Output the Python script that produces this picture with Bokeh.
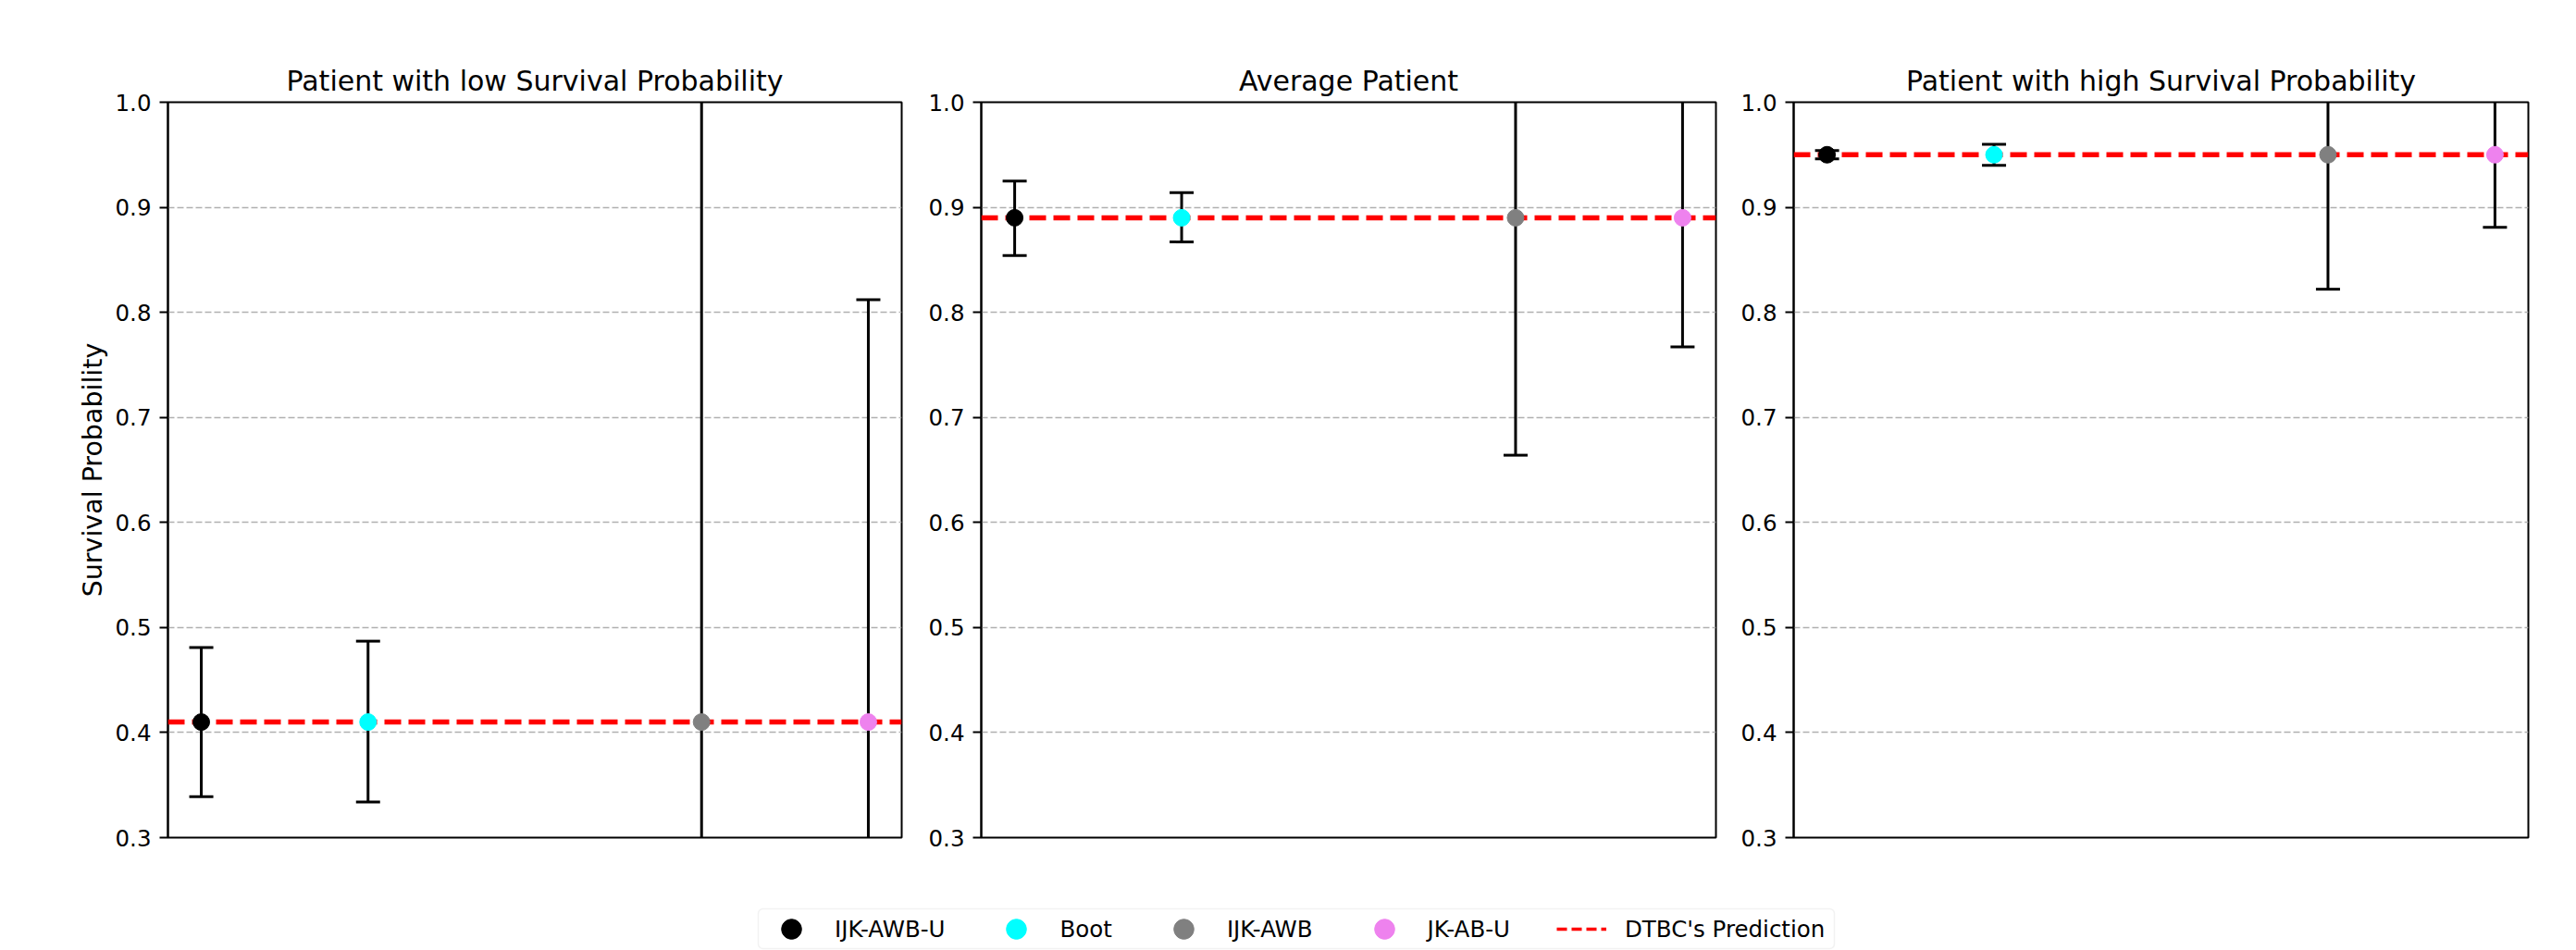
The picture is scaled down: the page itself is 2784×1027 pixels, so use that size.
from bokeh.plotting import figure
from bokeh.models import (ColumnDataSource, Range1d, Span, FixedTicker, PrintfTickFormatter,
                          Legend, LegendItem, BoxAnnotation)
from bokeh.layouts import column, row
from bokeh.embed import file_html
from bokeh.resources import INLINE

# ---------------- data ----------------
methods = ["IJK-AWB-U", "Boot", "IJK-AWB", "JK-AB-U"]
xpos = [0, 1, 3, 4]
colors = ["black", "cyan", "gray", "violet"]

titles = ["Patient with low Survival Probability", "Average Patient",
          "Patient with high Survival Probability"]
predictions = [0.41, 0.89, 0.95]

low_lower = [0.339, 0.334, -0.24, 0.008]
low_upper = [0.481, 0.487, 1.06, 0.812]
avg_lower = [0.854, 0.867, 0.664, 0.767]
avg_upper = [0.925, 0.914, 1.116, 1.013]
high_lower = [0.946, 0.940, 0.822, 0.881]
high_upper = [0.954, 0.960, 1.078, 1.019]

lowers = [low_lower, avg_lower, high_lower]
uppers = [low_upper, avg_upper, high_upper]

y_ticks = [0.3, 0.4, 0.5, 0.6, 0.7, 0.8, 0.9, 1.0]
pred_label = "DTBC's Prediction"
y_label = "Survival Probability"

FONT = "DejaVu Sans"
TICK_PX = "24.5px"
TITLE_PX = "30px"
YLABEL_PX = "28.5px"

# figure geometry
widths = [995, 875, 914]
borders_left = [181, 65, 68]
borders_right = [21, 16, 52]
HEIGHT = 950
TOP = 110
BOTTOM = 45

figs = []
for i in range(3):
    p = figure(width=widths[i], height=HEIGHT, output_backend="svg", toolbar_location=None,
               x_range=Range1d(-0.2, 4.2), y_range=Range1d(0.3, 1.0),
               min_border_left=borders_left[i], min_border_right=borders_right[i],
               min_border_top=TOP, min_border_bottom=BOTTOM, title=titles[i])
    p.title.align = "center"
    p.title.text_font = FONT
    p.title.text_font_size = TITLE_PX
    p.title.text_font_style = "normal"
    p.title.text_color = "black"
    p.title.standoff = 11

    p.xaxis.visible = False
    p.xgrid.visible = False
    p.ygrid.grid_line_color = "#b0b0b0"
    p.ygrid.grid_line_dash = "7 3"
    p.ygrid.grid_line_width = 1.5

    yax = p.yaxis[0]
    yax.ticker = FixedTicker(ticks=y_ticks)
    yax.formatter = PrintfTickFormatter(format="%.1f")
    yax.major_label_text_font = FONT
    yax.major_label_text_font_size = TICK_PX
    yax.major_label_text_color = "black"
    yax.major_tick_out = 9
    yax.major_tick_in = 0
    yax.minor_tick_out = 0
    yax.minor_tick_in = 0
    yax.major_tick_line_width = 2
    yax.major_tick_line_color = "black"
    yax.axis_line_color = "black"
    yax.axis_line_width = 2
    yax.major_label_standoff = 9
    if i == 0:
        yax.axis_label = y_label
        yax.axis_label_text_font = FONT
        yax.axis_label_text_font_size = YLABEL_PX
        yax.axis_label_text_font_style = "normal"
        yax.axis_label_text_color = "black"
        yax.axis_label_standoff = 5

    p.outline_line_color = "black"
    p.outline_line_width = 2
    p.outline_line_alpha = 1.0
    p.background_fill_color = "white"
    p.border_fill_color = "white"

    src = ColumnDataSource(dict(x=xpos, lo=lowers[i], hi=uppers[i],
                                y=[predictions[i]] * len(xpos), c=colors))
    p.segment(x0="x", y0="lo", x1="x", y1="hi", source=src, line_color="black", line_width=3)
    p.scatter(x="x", y="lo", source=src, marker="dash", size=26, line_color="black", line_width=3)
    p.scatter(x="x", y="hi", source=src, marker="dash", size=26, line_color="black", line_width=3)

    span = Span(location=predictions[i], dimension="width", line_color="red",
                line_width=5.5, line_dash="18 8")
    p.add_layout(span)

    mk = p.scatter(x="x", y="y", source=src, marker="circle", size=18, fill_color="c",
                   line_color="c", line_width=1)
    mk.level = "overlay"
    figs.append(p)

# ---------------- legend figure ----------------
LG_W, LG_H = 2784, 77
lg = figure(width=LG_W, height=LG_H, output_backend="svg", toolbar_location=None,
            x_range=Range1d(0, LG_W), y_range=Range1d(0, LG_H),
            min_border=0, min_border_left=0, min_border_right=0,
            min_border_top=0, min_border_bottom=0)
lg.axis.visible = False
lg.grid.visible = False
lg.outline_line_color = None
lg.background_fill_color = "white"
lg.border_fill_color = "white"

frame_box = BoxAnnotation(left=819, right=1982, bottom=2, top=45,
                          fill_color="white", fill_alpha=1.0,
                          line_color="#d4d4d4", line_width=1.5, border_radius=5)
frame_box.level = "underlay"
lg.add_layout(frame_box)

nan = float("nan")
items = []
for m, c in zip(methods, colors):
    r = lg.scatter(x=[nan], y=[nan], marker="circle", size=22, fill_color=c, line_color=c)
    items.append(LegendItem(label=m, renderers=[r]))
rl = lg.line(x=[nan, nan], y=[nan, nan], line_color="red", line_width=3.5, line_dash="11 5")
items.append(LegendItem(label=pred_label, renderers=[rl]))
legend = Legend(items=items, orientation="horizontal", location=(828, -5))
legend.label_text_font = FONT
legend.label_text_font_size = TICK_PX
legend.label_text_color = "black"
legend.label_height = 20
legend.glyph_width = 54
legend.glyph_height = 56
legend.label_standoff = 20
legend.spacing = 50
legend.padding = 0
legend.margin = 0
legend.border_line_color = None
legend.background_fill_alpha = 0
lg.add_layout(legend, "center")

layout = column(row(*figs, spacing=0), lg, spacing=0)

open("out.html", "w").write(file_html(layout, INLINE))
